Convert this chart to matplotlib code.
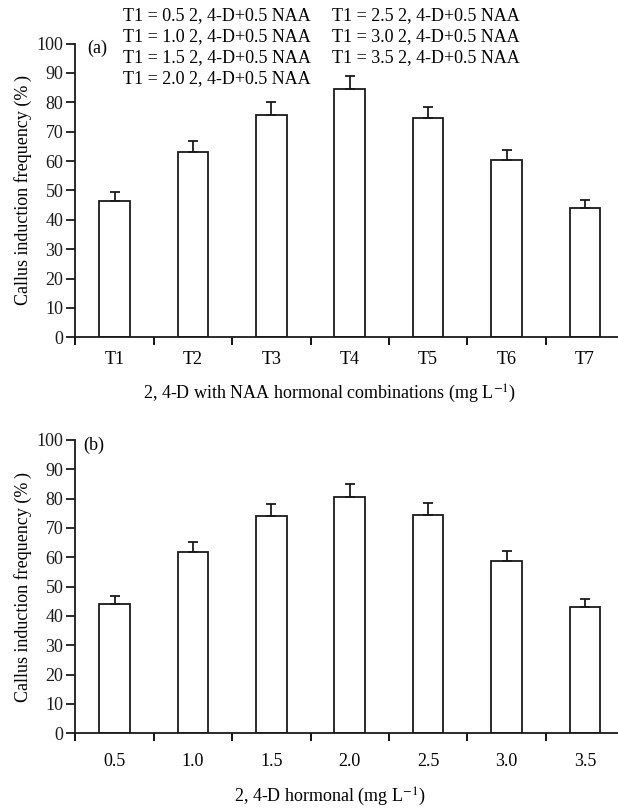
import numpy as np
import matplotlib
matplotlib.use("Agg")
import matplotlib.pyplot as plt

plt.rcParams['font.family'] = ['Liberation Serif', 'DejaVu Serif']
plt.rcParams['mathtext.fontset'] = 'stix'

# panel (a)
labels_a = ['T1', 'T2', 'T3', 'T4', 'T5', 'T6', 'T7']
vals_a = [46.5, 63.2, 75.7, 84.5, 74.6, 60.3, 44.1]
err_a = [2.9, 3.5, 4.4, 4.5, 3.9, 3.6, 2.5]

# panel (b)
labels_b = ['0.5', '1.0', '1.5', '2.0', '2.5', '3.0', '3.5']
vals_b = [44.0, 61.7, 74.2, 80.4, 74.4, 58.7, 43.0]
err_b = [2.9, 3.6, 4.1, 4.5, 4.1, 3.4, 2.7]

legend_col1 = ['T1 = 0.5 2, 4-D+0.5 NAA', 'T1 = 1.0 2, 4-D+0.5 NAA',
               'T1 = 1.5 2, 4-D+0.5 NAA', 'T1 = 2.0 2, 4-D+0.5 NAA']
legend_col2 = ['T1 = 2.5 2, 4-D+0.5 NAA', 'T1 = 3.0 2, 4-D+0.5 NAA',
               'T1 = 3.5 2, 4-D+0.5 NAA']

W, H = 618, 810
fs = 13
lw = 1.3

fig = plt.figure(figsize=(W/100, H/100), dpi=100)

def px_ax(left, top, bottom, right=W):
    return fig.add_axes([left/W, 1-bottom/H, (right-left)/W, (bottom-top)/H])

ax_a = px_ax(75.3, 43.5, 337.3)
ax_b = px_ax(75.3, 440.0, 733.3)

def draw(ax, labels, vals, err, xlabel, tag, tag_xy, xlab_y, tpad):
    x = np.arange(len(vals))
    ax.bar(x, vals, width=0.39, color='white', edgecolor='#1a1a1a', linewidth=lw, zorder=2)
    ax.errorbar(x, vals, yerr=[np.zeros(len(err)), err], fmt='none', ecolor='#1a1a1a',
                elinewidth=lw, capsize=3.5, capthick=lw, zorder=3)
    ax.set_xlim(-0.5, (W-75.3)/78.4 - 0.5)
    ax.set_ylim(0, 100)
    ax.set_yticks(np.arange(0, 101, 10))
    ax.set_xticks(np.arange(-0.5, 6, 1))
    ax.set_xticklabels([])
    ax.set_xticks(x, labels, minor=True)
    for s in ['top', 'right']:
        ax.spines[s].set_visible(False)
    for s in ['left', 'bottom']:
        ax.spines[s].set_linewidth(lw)
        ax.spines[s].set_color('#1a1a1a')
    ax.tick_params(axis='y', which='major', direction='out', length=6.5, width=lw,
                   pad=2, labelsize=fs, colors='#1a1a1a')
    ax.tick_params(axis='x', which='major', direction='out', length=5.5, width=lw)
    ax.tick_params(axis='x', which='minor', length=0, pad=tpad, labelsize=fs)
    ax.set_ylabel('Callus induction frequency (%\u2009)', fontsize=fs)
    ax.yaxis.label.set_va('center')
    ax.yaxis.set_label_coords((23-75.3)/(W-75.3), 0.5)
    ax.set_xlabel(xlabel, fontsize=fs)
    ax.xaxis.label.set_va('center')
    ax.xaxis.set_label_coords((330-75.3)/(W-75.3), -(xlab_y)/293.8)
    fig.text(tag_xy[0]/W, 1-tag_xy[1]/H, tag, fontsize=fs, va='baseline')

draw(ax_a, labels_a, vals_a, err_a,
     '2, 4-D with NAA hormonal combinations (mg L$^{-1}$)', '(a)', (87, 53), 57, 10)
draw(ax_b, labels_b, vals_b, err_b,
     '2, 4-D hormonal (mg L$^{-1}$)', '(b)', (83, 450), 64, 14)

for i, t in enumerate(legend_col1):
    fig.text(123/W, 1-(20.5+21*i)/H, t, fontsize=fs, va='baseline')
for i, t in enumerate(legend_col2):
    fig.text(332/W, 1-(20.5+21*i)/H, t, fontsize=fs, va='baseline')

fig.savefig('out.png', dpi=100)
